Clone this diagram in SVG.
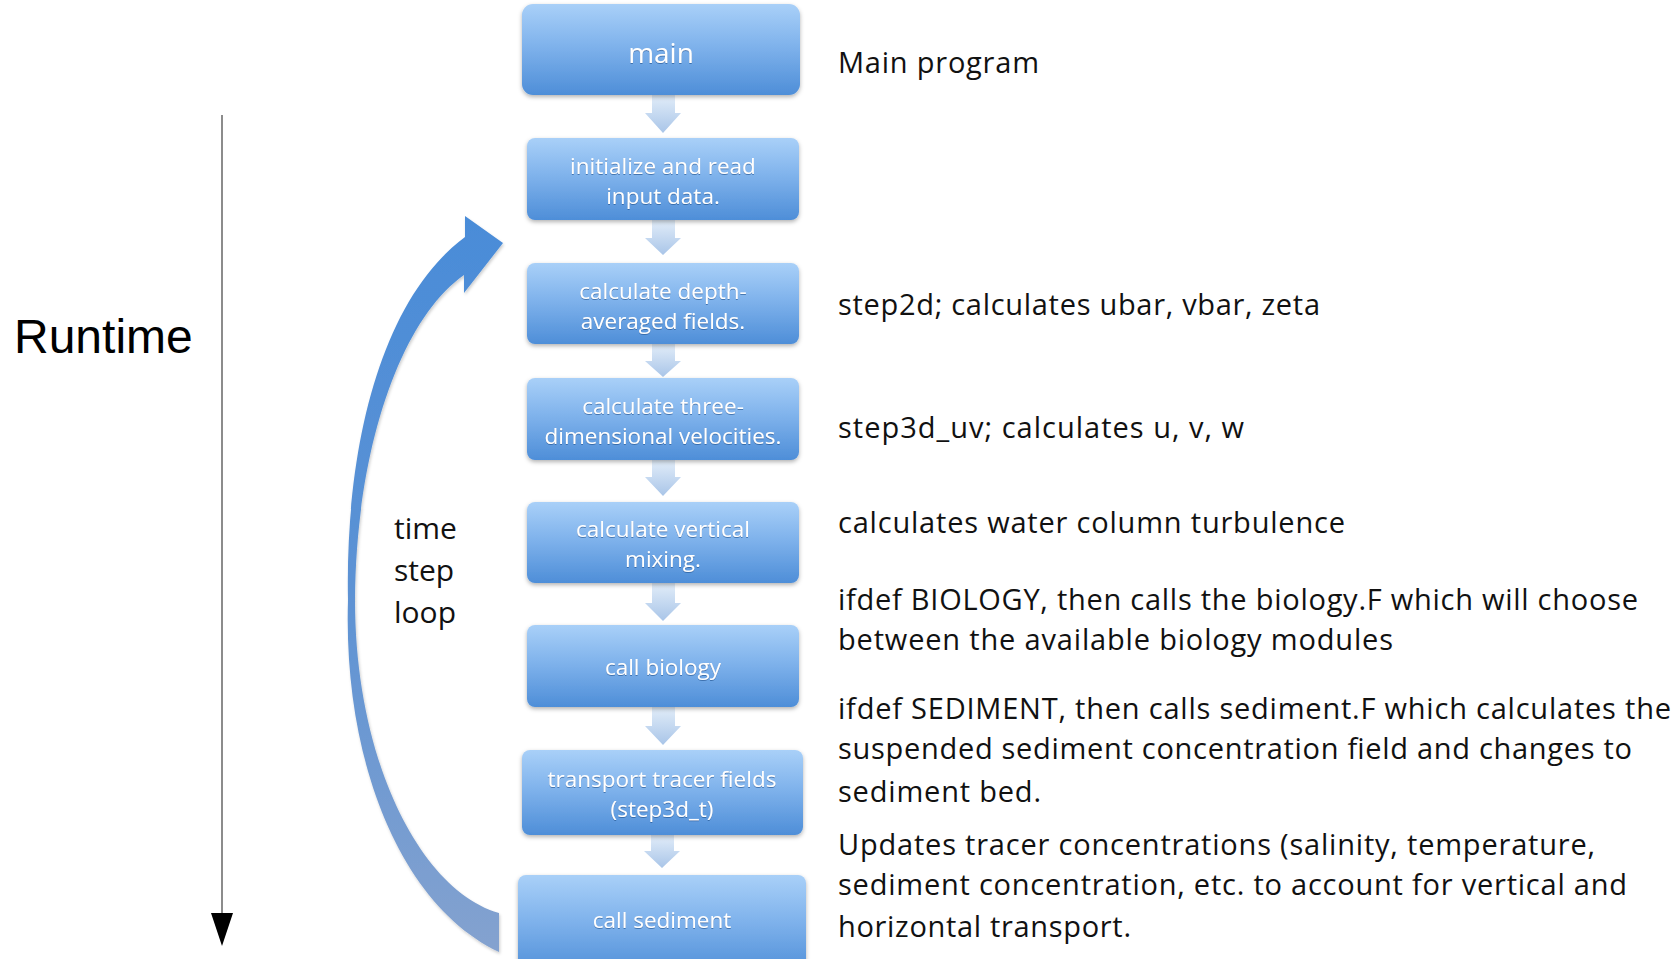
<svg xmlns="http://www.w3.org/2000/svg" width="1677" height="959" viewBox="0 0 1677 959">
  <defs>
    <linearGradient id="boxFill" x1="0" y1="0" x2="0" y2="1">
      <stop offset="0" stop-color="#a9d0f8"/>
      <stop offset="0.45" stop-color="#80b3ec"/>
      <stop offset="1" stop-color="#4e8ed8"/>
    </linearGradient>
    <linearGradient id="stepFill" x1="0" y1="0" x2="0" y2="1">
      <stop offset="0" stop-color="#e2edf9"/>
      <stop offset="1" stop-color="#a9c5e8"/>
    </linearGradient>
    <linearGradient id="loopFill" x1="0" y1="0" x2="0" y2="1">
      <stop offset="0" stop-color="#4a8cd8"/>
      <stop offset="0.5" stop-color="#5c92d4"/>
      <stop offset="1" stop-color="#84a2cf"/>
    </linearGradient>
    <filter id="shadow" x="-10%" y="-10%" width="120%" height="130%">
      <feDropShadow dx="0" dy="2" stdDeviation="2" flood-color="#000" flood-opacity="0.3"/>
    </filter>
    <filter id="soft" x="-10%" y="-10%" width="120%" height="120%">
      <feDropShadow dx="1" dy="2" stdDeviation="1.5" flood-color="#000" flood-opacity="0.2"/>
    </filter>
    <filter id="txtShadow" x="-5%" y="-20%" width="110%" height="140%">
      <feDropShadow dx="0" dy="1" stdDeviation="0.6" flood-color="#1f4f8a" flood-opacity="0.6"/>
    </filter>
    <style>
      .box { fill: url(#boxFill); filter: url(#shadow); }
      .step { fill: url(#stepFill); }
      .btxt { font-family: "Open Sans", "Noto Sans", sans-serif; font-size: 22.5px; fill: #ffffff; text-anchor: middle; filter: url(#txtShadow); }
      .big { font-size: 28px; }
      .note { font-family: "Open Sans", "Noto Sans", sans-serif; font-size: 29px; fill: #111111; }
      .loop { font-family: "Open Sans", "Noto Sans", sans-serif; font-size: 30px; fill: #111111; }
    </style>
  </defs>

  <rect width="1677" height="959" fill="#ffffff"/>

  <!-- runtime axis -->
  <g id="runtime">
    <text x="14" y="353" font-family="Liberation Sans, Arial, sans-serif" font-size="48" fill="#000">Runtime</text>
    <line x1="222" y1="115" x2="222" y2="914" stroke="#666" stroke-width="1.5"/>
    <polygon points="211,913 233,913 222,946" fill="#000"/>
  </g>

  <!-- time step loop -->
  <g id="loop">
    <path d="M499,952 C400,905 343,760 348,600 C345,450 380,300 465,237 L465,216 L503,243 L464,293 L464,275 C400,320 356,450 355,600 C355,760 420,890 499,913 Z" fill="url(#loopFill)" filter="url(#soft)"/>
    <text class="loop" x="394" y="539">time</text>
    <text class="loop" x="394" y="581">step</text>
    <text class="loop" x="394" y="623">loop</text>
  </g>

  <!-- connectors between the steps -->
  <g id="connectors">
    <path class="step" d="M652,95 H675 V113 H681 L663,133 L645,113 H652 Z"/>
    <path class="step" d="M652,220 H675 V238 H681 L663,255 L645,238 H652 Z"/>
    <path class="step" d="M652,344 H675 V361 H681 L663,377 L645,361 H652 Z"/>
    <path class="step" d="M652,460 H675 V477 H681 L663,496 L645,477 H652 Z"/>
    <path class="step" d="M652,583 H675 V603 H681 L663,621 L645,603 H652 Z"/>
    <path class="step" d="M652,707 H675 V726 H681 L663,745 L645,726 H652 Z"/>
    <path class="step" d="M651,835 H674 V851 H680 L662,868 L644,851 H651 Z"/>
  </g>

  <g id="main">
    <rect class="box" x="522" y="4" width="278" height="91" rx="11"/>
    <text class="btxt big" x="661" y="63">main</text>
  </g>
  <g id="init">
    <rect class="box" x="527" y="138" width="272" height="82" rx="8"/>
    <text class="btxt" x="663" y="174">initialize and read</text>
    <text class="btxt" x="663" y="204">input data.</text>
  </g>
  <g id="depth">
    <rect class="box" x="527" y="263" width="272" height="81" rx="8"/>
    <text class="btxt" x="663" y="299">calculate depth-</text>
    <text class="btxt" x="663" y="329">averaged fields.</text>
  </g>
  <g id="velocities">
    <rect class="box" x="527" y="378" width="272" height="82" rx="8"/>
    <text class="btxt" x="663" y="414">calculate three-</text>
    <text class="btxt" x="663" y="444">dimensional velocities.</text>
  </g>
  <g id="mixing">
    <rect class="box" x="527" y="502" width="272" height="81" rx="8"/>
    <text class="btxt" x="663" y="537">calculate vertical</text>
    <text class="btxt" x="663" y="567">mixing.</text>
  </g>
  <g id="biology">
    <rect class="box" x="527" y="625" width="272" height="82" rx="8"/>
    <text class="btxt" x="663" y="675">call biology</text>
  </g>
  <g id="transport">
    <rect class="box" x="522" y="750" width="281" height="85" rx="8"/>
    <text class="btxt" x="662" y="787">transport tracer fields</text>
    <text class="btxt" x="662" y="817">(step3d_t)</text>
  </g>
  <g id="sediment">
    <rect class="box" x="518" y="875" width="288" height="100" rx="8"/>
    <text class="btxt" x="662" y="928">call sediment</text>
  </g>

  <!-- descriptions -->
  <g id="notes">
    <text class="note" x="838" y="73" textLength="201">Main program</text>
    <text class="note" x="838" y="315" textLength="482">step2d; calculates ubar, vbar, zeta</text>
    <text class="note" x="838" y="438" textLength="406">step3d_uv; calculates u, v, w</text>
    <text class="note" x="838" y="533" textLength="507">calculates water column turbulence</text>
    <text class="note" x="838" y="610" textLength="800">ifdef BIOLOGY, then calls the biology.F which will choose</text>
    <text class="note" x="838" y="650" textLength="555">between the available biology modules</text>
    <text class="note" x="838" y="719" textLength="833">ifdef SEDIMENT, then calls sediment.F which calculates the</text>
    <text class="note" x="838" y="759" textLength="794">suspended sediment concentration field and changes to</text>
    <text class="note" x="838" y="802" textLength="203">sediment bed.</text>
    <text class="note" x="838" y="855" textLength="757">Updates tracer concentrations (salinity, temperature,</text>
    <text class="note" x="838" y="895" textLength="789">sediment concentration, etc. to account for vertical and</text>
    <text class="note" x="838" y="937" textLength="293">horizontal transport.</text>
  </g>
</svg>
